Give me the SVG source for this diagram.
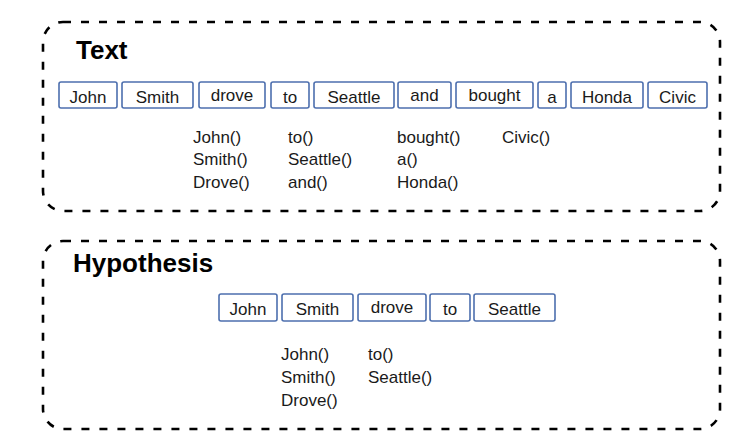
<svg xmlns="http://www.w3.org/2000/svg" width="756" height="446" viewBox="0 0 756 446">
<style>
.frame{fill:none;stroke:#000;stroke-width:2.6;stroke-dasharray:8 10}
.tok rect{fill:#fff;stroke:#4d6fae;stroke-width:1.6}
.tok text,.lst{font-family:"Liberation Sans",Arial,sans-serif;font-size:17px;fill:#1a1a1a}
.tok text{text-anchor:middle}
.title{font-family:"Liberation Sans",Arial,sans-serif;font-size:26px;font-weight:bold;fill:#000}
</style>
<rect width="756" height="446" fill="#fff"/>
<g id="text-panel">
<rect class="frame" x="43" y="22" width="677" height="189" rx="20"/>
<text class="title" x="76" y="59">Text</text>
</g>
<g id="t-john" class="tok"><rect x="59" y="82" width="58" height="26" rx="2"/><text x="88" y="103">John</text></g>
<g id="t-smith" class="tok"><rect x="122" y="82" width="71" height="26" rx="2"/><text x="157.5" y="103">Smith</text></g>
<g id="t-drove" class="tok"><rect x="199" y="82" width="66" height="26" rx="2"/><text x="232" y="101">drove</text></g>
<g id="t-to" class="tok"><rect x="271" y="82" width="38" height="26" rx="2"/><text x="290" y="103">to</text></g>
<g id="t-seattle" class="tok"><rect x="314" y="82" width="80" height="26" rx="2"/><text x="354" y="103">Seattle</text></g>
<g id="t-and" class="tok"><rect x="398" y="82" width="53" height="26" rx="2"/><text x="424.5" y="101">and</text></g>
<g id="t-bought" class="tok"><rect x="456" y="82" width="77" height="26" rx="2"/><text x="494.5" y="101">bought</text></g>
<g id="t-a" class="tok"><rect x="538" y="82" width="28" height="26" rx="2"/><text x="552" y="103">a</text></g>
<g id="t-honda" class="tok"><rect x="571" y="82" width="72" height="26" rx="2"/><text x="607" y="103">Honda</text></g>
<g id="t-civic" class="tok"><rect x="648" y="82" width="59" height="26" rx="2"/><text x="677.5" y="103">Civic</text></g>
<g id="text-lists" class="lst">
<text x="193" y="143">John()</text>
<text x="193" y="165">Smith()</text>
<text x="193" y="188">Drove()</text>
<text x="288" y="143">to()</text>
<text x="288" y="165">Seattle()</text>
<text x="288" y="188">and()</text>
<text x="397" y="143">bought()</text>
<text x="397" y="165">a()</text>
<text x="397" y="188">Honda()</text>
<text x="502" y="143">Civic()</text>
</g>
<g id="hypothesis-panel">
<rect class="frame" x="43" y="241" width="677" height="188" rx="20"/>
<text class="title" x="73" y="272">Hypothesis</text>
</g>
<g id="h-john" class="tok"><rect x="219" y="294" width="58" height="27" rx="2"/><text x="248" y="315">John</text></g>
<g id="h-smith" class="tok"><rect x="282" y="294" width="71" height="27" rx="2"/><text x="317.5" y="315">Smith</text></g>
<g id="h-drove" class="tok"><rect x="358" y="294" width="68" height="27" rx="2"/><text x="392" y="313">drove</text></g>
<g id="h-to" class="tok"><rect x="430" y="294" width="40" height="27" rx="2"/><text x="450" y="315">to</text></g>
<g id="h-seattle" class="tok"><rect x="474" y="294" width="81" height="27" rx="2"/><text x="514.5" y="315">Seattle</text></g>
<g id="hyp-lists" class="lst">
<text x="281" y="360">John()</text>
<text x="281" y="383">Smith()</text>
<text x="281" y="406">Drove()</text>
<text x="368" y="360">to()</text>
<text x="368" y="383">Seattle()</text>
</g>
<g id="connectors"/>
</svg>
